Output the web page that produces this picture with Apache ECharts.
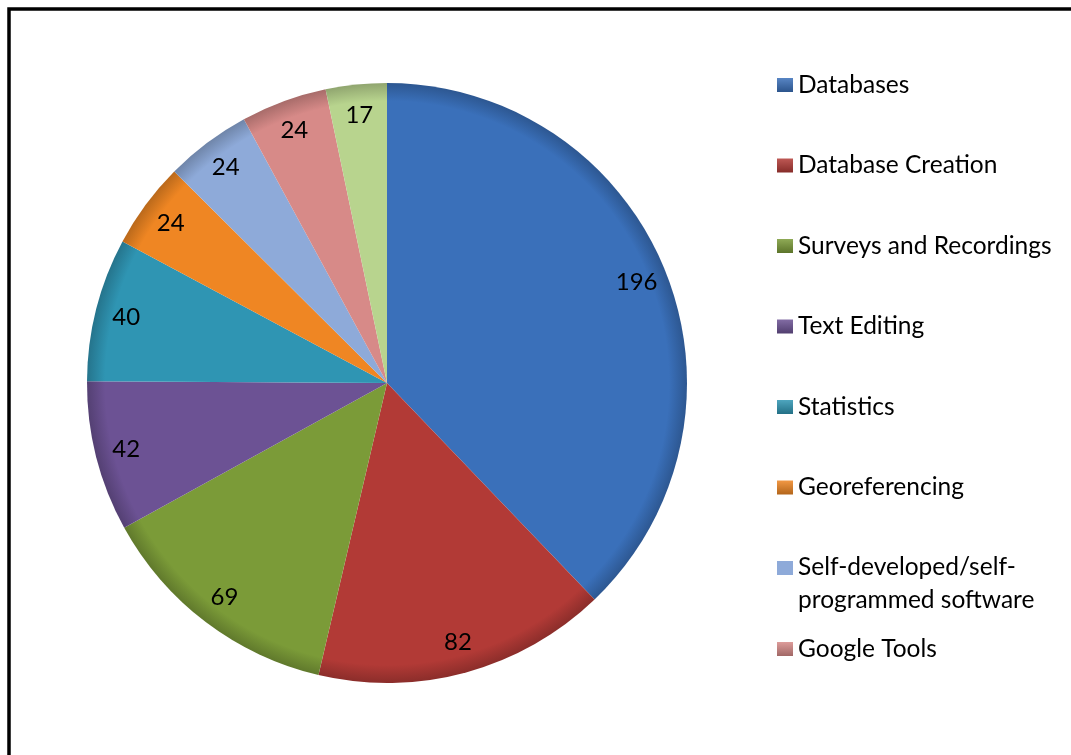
<!DOCTYPE html>
<html>
<head>
<meta charset="utf-8">
<script src="https://cdn.jsdelivr.net/npm/echarts@6/dist/echarts.min.js"></script>
<style>
html,body{margin:0;padding:0;background:#fff;}
#chart{width:1071px;height:755px;}
</style>
</head>
<body>
<div id="chart"></div>
<script>
const categories = ['Databases','Database Creation','Surveys and Recordings','Text Editing','Statistics','Georeferencing','Self-developed/self-programmed software','Google Tools','Other'];
const values = [196, 82, 69, 42, 40, 24, 24, 24, 17];
const colors = ['#3a70ba','#b23a36','#7b9b38','#6c5294','#2f95b3','#ef8623','#8eaad9','#d78a88','#b8d48e'];
const legendGroupA = ['Databases','Database Creation','Surveys and Recordings','Text Editing','Statistics','Georeferencing'];
const legendGroupB = ['Self-developed/self-programmed software'];
const legendGroupC = ['Google Tools'];

function shade(hex, f){
  const n = parseInt(hex.slice(1),16);
  let r=(n>>16)&255,g=(n>>8)&255,b=n&255;
  const adj=c=>Math.max(0,Math.min(255,Math.round(f>0?c+(255-c)*f:c*(1+f))));
  return 'rgb('+adj(r)+','+adj(g)+','+adj(b)+')';
}
function legendItems(names){
  return names.map(n=>{
    const c = colors[categories.indexOf(n)];
    return {name:n,itemStyle:{color:{type:'linear',x:0,y:0,x2:0,y2:1,colorStops:[
      {offset:0,color:shade(c,0.15)},{offset:1,color:shade(c,-0.25)}]}}};
  });
}

const CX = 387, CY = 383, R = 300;
const pieData = categories.map((c,i)=>({
  name:c, value:values[i],
  itemStyle:{color:{type:'radial',global:true,x:CX,y:CY,r:R,colorStops:[
    {offset:0,color:colors[i]},
    {offset:0.94,color:colors[i]},
    {offset:1,color:shade(colors[i],-0.22)}]}}
}));
const labelData = categories.map((c,i)=>({name:c,value:values[i]}));

const font = 'Lato, "Open Sans", sans-serif';
const legendText = {fontFamily:font,fontSize:24.5,color:'#000',lineHeight:26};
// icon square at top of a taller box, so the icon sits beside the first text line
const topIcon = 'path://M0,0h16v14h-16z M0,46h0.01v0.01h-0.01z';

const chart = echarts.init(document.getElementById('chart'));
chart.setOption({
  animation:false,
  color:colors,
  graphic:[{type:'rect',silent:true,shape:{x:9,y:9,width:1200,height:900},
    style:{fill:'none',stroke:'#000',lineWidth:3.5}}],
  legend:[
    {orient:'vertical',left:772,top:67,itemWidth:16,itemHeight:14,itemGap:54.5,icon:'rect',
     data:legendItems(legendGroupA),textStyle:legendText,selectedMode:false},
    {orient:'vertical',left:772,top:546,itemWidth:16,itemHeight:47,icon:topIcon,
     data:[{name:legendGroupB[0],itemStyle:{color:colors[6]}}],selectedMode:false,
     formatter:()=>'Self-developed/self-\nprogrammed software',
     textStyle:Object.assign({},legendText,{lineHeight:33})},
    {orient:'vertical',left:772,top:631,itemWidth:16,itemHeight:14,icon:'rect',
     data:legendItems(legendGroupC),textStyle:legendText,selectedMode:false}
  ],
  series:[
    {type:'pie',center:[CX,CY],radius:[0,R],startAngle:90,clockwise:true,
     label:{show:false},labelLine:{show:false},
     itemStyle:{borderWidth:0},
     emphasis:{disabled:true},
     data:pieData},
    {type:'pie',center:[CX,CY],radius:[232,R],startAngle:90,clockwise:true,silent:true,
     itemStyle:{color:'rgba(0,0,0,0)',borderWidth:0},
     label:{show:true,position:'inside',formatter:'{c}',color:'#000',fontFamily:font,fontSize:24},
     labelLine:{show:false},emphasis:{disabled:true},
     data:labelData}
  ]
});
</script>
</body>
</html>
